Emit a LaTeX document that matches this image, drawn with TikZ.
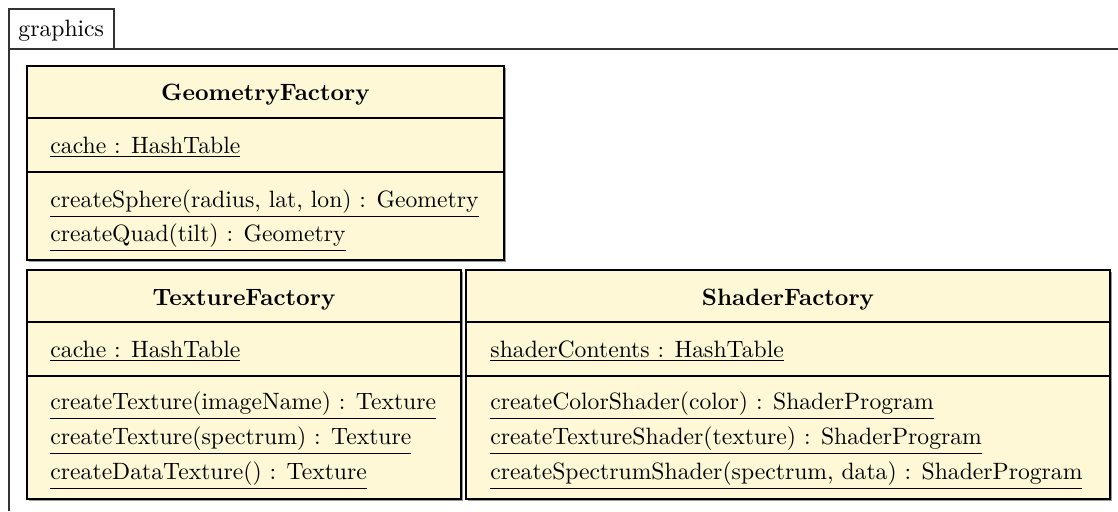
\documentclass[tikz,border=0pt]{standalone}
\usetikzlibrary{shadows}
\definecolor{classfill}{RGB}{255,248,214}
\tikzset{
  umlbox/.style={draw=black, line width=0.45pt, fill=classfill,
    drop shadow={shadow xshift=0.8pt, shadow yshift=-0.8pt, fill=black!40, opacity=1}},
  compsep/.style={draw=black, line width=0.45pt},
  pkgframe/.style={draw=black!80, line width=0.5pt},
  classtitle/.style={anchor=base, inner sep=0pt, font=\bfseries},
  member/.style={anchor=base west, inner sep=0pt},
}
\begin{document}
\begin{tikzpicture}[x=0.423pt, y=-0.423pt]
\useasboundingbox (0,0) rectangle (1118,511);

% package frame with its name tab
\draw[pkgframe] (9,9) rectangle (114,49);
\node[member] (pkgname) at (18,36) {graphics};
\draw[pkgframe] (1118,49) -- (9,49) -- (9,511);

% GeometryFactory
\path[umlbox] (27,66) rectangle (504,260);
\draw[compsep] (27,118) -- (504,118);
\draw[compsep] (27,172) -- (504,172);
\node[classtitle] (geoT) at (265.5,100) {GeometryFactory};
\node[member] (geoA1) at (50,153) {\underline{cache : HashTable}};
\node[member] (geoM1) at (50,207) {\underline{createSphere(radius, lat, lon) : Geometry}};
\node[member] (geoM2) at (50,241) {\underline{createQuad(tilt) : Geometry}};

% TextureFactory
\path[umlbox] (27,270) rectangle (461,499);
\draw[compsep] (27,322) -- (461,322);
\draw[compsep] (27,376) -- (461,376);
\node[classtitle] (texT) at (244,305) {TextureFactory};
\node[member] (texA1) at (50,357) {\underline{cache : HashTable}};
\node[member] (texM1) at (50,409) {\underline{createTexture(imageName) : Texture}};
\node[member] (texM2) at (50,444) {\underline{createTexture(spectrum) : Texture}};
\node[member] (texM3) at (50,479) {\underline{createDataTexture() : Texture}};

% ShaderFactory
\path[umlbox] (466,270) rectangle (1110,499);
\draw[compsep] (466,322) -- (1110,322);
\draw[compsep] (466,376) -- (1110,376);
\node[classtitle] (shT) at (788,305) {ShaderFactory};
\node[member] (shA1) at (490,357) {\underline{shaderContents : HashTable}};
\node[member] (shM1) at (490,409) {\underline{createColorShader(color) : ShaderProgram}};
\node[member] (shM2) at (490,444) {\underline{createTextureShader(texture) : ShaderProgram}};
\node[member] (shM3) at (490,479) {\underline{createSpectrumShader(spectrum, data) : ShaderProgram}};
\end{tikzpicture}
\end{document}
